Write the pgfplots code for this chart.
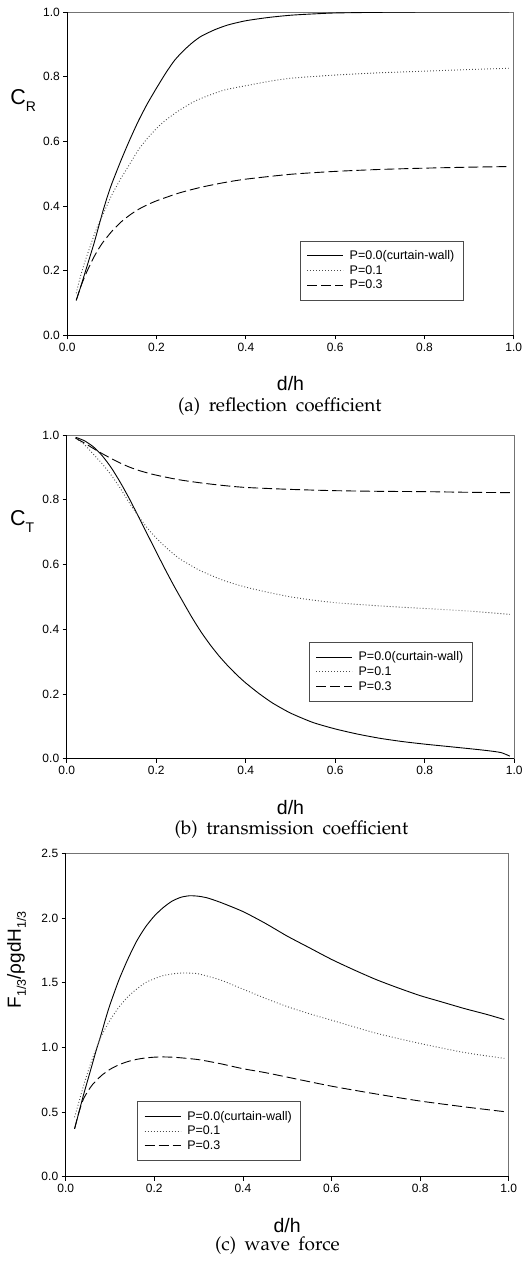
\documentclass[border=0pt]{standalone}
\usepackage[T1]{fontenc}
\usepackage{fontspec}
\setmainfont{Liberation Sans}
\usepackage{pgfplots}
\pgfplotsset{compat=1.18}
\newcommand{\capfont}{\fontencoding{T1}\fontfamily{ppl}\fontsize{19bp}{22bp}\selectfont}
\newcommand{\tickfont}{\fontsize{12bp}{14bp}\selectfont}
\newcommand{\legfont}{\fontsize{12.5bp}{14bp}\selectfont}
\pgfplotsset{
  myaxis/.style={
    scale only axis,
    clip mode=individual,
    anchor=south west,
    xmin=0, xmax=1,
    xtick={0,0.2,0.4,0.6,0.8,1.0},
    tick align=outside,
    tick pos=left,
    major tick length=4bp,
    tick style={black, line width=0.8bp},
    axis line style={black!55, line width=0.6bp},
    /pgf/number format/assume math mode=true,
    xticklabel style={font=\tickfont, /pgf/number format/.cd, fixed, fixed zerofill, precision=1},
    yticklabel style={font=\tickfont, /pgf/number format/.cd, fixed, fixed zerofill, precision=1},
    xlabel={d/h},
    xlabel style={font=\fontsize{19.5bp}{22bp}\selectfont, at={(axis description cs:0.5,-0.171)}, anchor=base},
    legend cell align=left,
    legend image code/.code={\draw[##1] (0bp,0bp) -- (36bp,0bp);},
    legend style={draw=black!70, line width=0.6bp, font=\legfont, inner xsep=6.5bp, inner ysep=7.5bp,
      nodes={inner sep=2.2bp}, row sep=0bp,
      /tikz/every odd column/.append style={column sep=3.9bp}},
    extra description/.code={\draw[black, line width=1bp] (rel axis cs:0,1) -- (rel axis cs:0,0) -- (rel axis cs:1,0);},
  },
  s0/.style={black, line width=0.9bp, smooth, tension=0.4},
  s1/.style={black!70, line width=0.9bp, dash pattern=on 0.9bp off 2.1bp, smooth, tension=0.4},
  s3/.style={black, line width=0.9bp, dash pattern=on 10bp off 4bp, smooth, tension=0.4},
}
\begin{document}
\begin{tikzpicture}
\useasboundingbox (0,0) rectangle (532bp,-1262bp);
% ---------------- (a) ----------------
\begin{axis}[myaxis, at={(67.3bp,-335.3bp)}, width=446.4bp, height=323.3bp,
  ymin=0, ymax=1, ytick={0,0.2,0.4,0.6,0.8,1.0},
  legend style={at={(axis description cs:0.521,0.293)}, anchor=north west}]
\addplot[s0] coordinates {(0.02,0.108) (0.03,0.15) (0.04,0.195) (0.05,0.24) (0.06,0.285) (0.07,0.335) (0.08,0.385) (0.09,0.43) (0.10,0.47) (0.12,0.54) (0.14,0.605) (0.16,0.665) (0.18,0.718) (0.20,0.765) (0.22,0.81) (0.24,0.85) (0.26,0.88) (0.28,0.905) (0.30,0.925) (0.33,0.945) (0.36,0.96) (0.40,0.973) (0.45,0.983) (0.50,0.99) (0.55,0.994) (0.60,0.997) (0.70,0.999) (0.80,1.0) (0.90,1.0) (0.99,1.0)};
\addlegendentry{P=0.0(curtain-wall)}
\addplot[s1] coordinates {(0.02,0.13) (0.03,0.185) (0.04,0.23) (0.05,0.27) (0.06,0.31) (0.07,0.345) (0.08,0.375) (0.09,0.405) (0.10,0.435) (0.12,0.485) (0.14,0.53) (0.16,0.575) (0.18,0.61) (0.20,0.64) (0.22,0.665) (0.25,0.695) (0.28,0.72) (0.30,0.733) (0.35,0.758) (0.40,0.772) (0.45,0.785) (0.50,0.795) (0.60,0.805) (0.70,0.812) (0.80,0.817) (0.90,0.822) (0.99,0.826)};
\addlegendentry{P=0.1}
\addplot[s3] coordinates {(0.02,0.108) (0.03,0.15) (0.04,0.185) (0.05,0.215) (0.06,0.243) (0.07,0.267) (0.08,0.288) (0.10,0.322) (0.12,0.35) (0.14,0.372) (0.16,0.39) (0.18,0.404) (0.20,0.416) (0.25,0.44) (0.30,0.458) (0.35,0.472) (0.40,0.483) (0.50,0.498) (0.60,0.507) (0.70,0.513) (0.80,0.517) (0.90,0.52) (0.99,0.522)};
\addlegendentry{P=0.3}
\node[anchor=base west, inner sep=0pt, font=\fontsize{21.5bp}{24bp}\selectfont] at (axis description cs:-0.128,0.715) {C\raisebox{-7bp}{\fontsize{14bp}{16bp}\selectfont R}};
\node[anchor=base, inner sep=0pt] at (axis description cs:0.476,-0.236) {\capfont (a)\hspace{0.45em}reflection\hspace{0.45em}coefficient};
\end{axis}
% ---------------- (b) ----------------
\begin{axis}[myaxis, at={(66.7bp,-758.7bp)}, width=447.6bp, height=323.7bp,
  ymin=0, ymax=1, ytick={0,0.2,0.4,0.6,0.8,1.0},
  legend style={at={(axis description cs:0.541,0.361)}, anchor=north west}]
\addplot[s0] coordinates {(0.02,0.993) (0.04,0.982) (0.06,0.963) (0.08,0.935) (0.10,0.898) (0.12,0.853) (0.14,0.803) (0.16,0.749) (0.18,0.694) (0.20,0.639) (0.22,0.585) (0.24,0.533) (0.26,0.484) (0.28,0.436) (0.30,0.392) (0.32,0.353) (0.34,0.318) (0.36,0.287) (0.38,0.259) (0.40,0.234) (0.43,0.201) (0.46,0.172) (0.50,0.141) (0.55,0.112) (0.60,0.092) (0.65,0.076) (0.70,0.063) (0.75,0.053) (0.80,0.045) (0.85,0.038) (0.90,0.031) (0.94,0.025) (0.97,0.019) (0.99,0.008)};
\addlegendentry{P=0.0(curtain-wall)}
\addplot[s1] coordinates {(0.02,0.99) (0.04,0.97) (0.06,0.94) (0.08,0.91) (0.10,0.875) (0.12,0.835) (0.14,0.79) (0.16,0.75) (0.18,0.713) (0.20,0.682) (0.22,0.655) (0.25,0.62) (0.28,0.595) (0.30,0.58) (0.35,0.551) (0.40,0.53) (0.45,0.514) (0.50,0.50) (0.55,0.49) (0.60,0.482) (0.70,0.472) (0.80,0.464) (0.90,0.456) (0.99,0.446)};
\addlegendentry{P=0.1}
\addplot[s3] coordinates {(0.02,0.99) (0.04,0.975) (0.06,0.958) (0.08,0.942) (0.10,0.927) (0.12,0.913) (0.14,0.901) (0.16,0.891) (0.18,0.883) (0.20,0.876) (0.25,0.862) (0.30,0.852) (0.35,0.844) (0.40,0.838) (0.50,0.832) (0.60,0.828) (0.70,0.826) (0.80,0.825) (0.90,0.823) (0.99,0.822)};
\addlegendentry{P=0.3}
\node[anchor=base west, inner sep=0pt, font=\fontsize{21.5bp}{24bp}\selectfont] at (axis description cs:-0.127,0.719) {C\raisebox{-7bp}{\fontsize{14bp}{16bp}\selectfont T}};
\node[anchor=base, inner sep=0pt] at (axis description cs:0.502,-0.234) {\capfont (b)\hspace{0.45em}transmission\hspace{0.45em}coefficient};
\end{axis}
% ---------------- (c) ----------------
\begin{axis}[myaxis, at={(65.7bp,-1176.7bp)}, width=443bp, height=323.4bp,
  ymin=0, ymax=2.5, ytick={0,0.5,1.0,1.5,2.0,2.5},
  legend style={at={(axis description cs:0.162,0.234)}, anchor=north west}]
\addplot[s0] coordinates {(0.02,0.37) (0.03,0.50) (0.04,0.63) (0.05,0.75) (0.06,0.87) (0.07,0.99) (0.08,1.10) (0.09,1.22) (0.10,1.33) (0.12,1.52) (0.14,1.68) (0.16,1.82) (0.18,1.93) (0.20,2.015) (0.22,2.08) (0.24,2.13) (0.26,2.16) (0.28,2.172) (0.30,2.168) (0.32,2.155) (0.35,2.12) (0.40,2.05) (0.45,1.96) (0.50,1.86) (0.55,1.77) (0.60,1.68) (0.65,1.60) (0.70,1.525) (0.75,1.46) (0.80,1.40) (0.85,1.35) (0.90,1.30) (0.95,1.255) (0.99,1.215)};
\addlegendentry{P=0.0(curtain-wall)}
\addplot[s1] coordinates {(0.02,0.46) (0.03,0.58) (0.04,0.70) (0.05,0.81) (0.06,0.91) (0.07,1.00) (0.08,1.085) (0.09,1.15) (0.10,1.21) (0.12,1.31) (0.14,1.39) (0.16,1.45) (0.18,1.50) (0.20,1.53) (0.22,1.555) (0.25,1.572) (0.27,1.575) (0.30,1.568) (0.35,1.52) (0.40,1.45) (0.45,1.38) (0.50,1.315) (0.55,1.26) (0.60,1.21) (0.70,1.11) (0.80,1.03) (0.90,0.96) (0.99,0.915)};
\addlegendentry{P=0.1}
\addplot[s3] coordinates {(0.02,0.37) (0.03,0.50) (0.04,0.60) (0.05,0.66) (0.06,0.71) (0.08,0.78) (0.10,0.83) (0.12,0.865) (0.14,0.89) (0.16,0.907) (0.18,0.918) (0.20,0.924) (0.22,0.926) (0.25,0.922) (0.30,0.905) (0.35,0.873) (0.40,0.835) (0.45,0.805) (0.50,0.77) (0.60,0.70) (0.70,0.64) (0.80,0.585) (0.90,0.54) (0.99,0.503)};
\addlegendentry{P=0.3}
\node[anchor=base, rotate=90, inner sep=0pt, font=\fontsize{19bp}{22bp}\selectfont] at (axis description cs:-0.101,0.671) {F\raisebox{-5bp}{\fontsize{12.5bp}{14bp}\selectfont 1/3}/ρgdH\raisebox{-5bp}{\fontsize{12.5bp}{14bp}\selectfont 1/3}};
\node[anchor=base, inner sep=0pt] at (axis description cs:0.478,-0.229) {\capfont (c)\hspace{0.45em}wave\hspace{0.45em}force};
\end{axis}
\end{tikzpicture}
\end{document}
